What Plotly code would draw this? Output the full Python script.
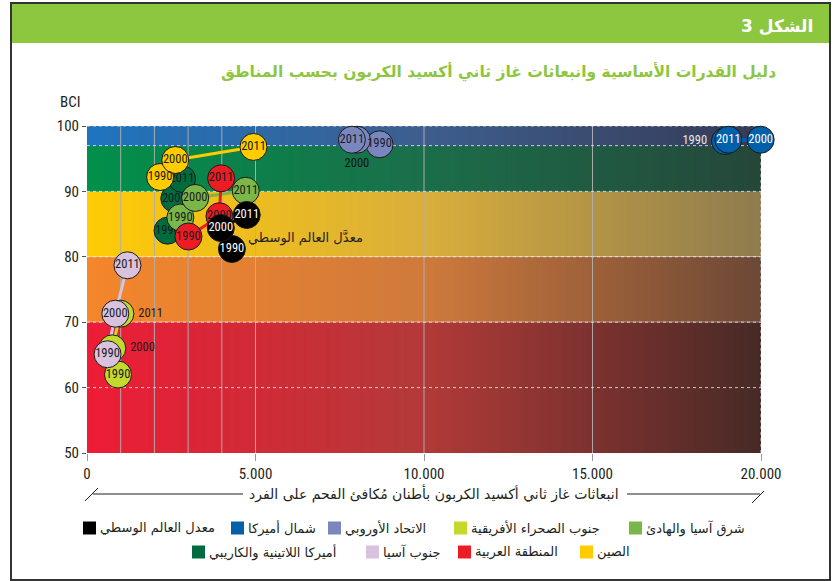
import numpy as np
import plotly.graph_objects as go

# figure size and plot margins (pixels)
W, H = 835, 581
L, R, T, B = 87, 74, 126, 128

years = ["1990", "2000", "2011"]

# CO2 emissions per capita (x) and BCI (y) per region, 1990 / 2000 / 2011
ssa_x = [920, 750, 990]
ssa_y = [62.0, 66.0, 71.3]
sa_x = [610, 840, 1200]
sa_y = [65.1, 71.3, 78.7]
lac_x = [2390, 2590, 2820]
lac_y = [84.0, 88.9, 91.9]
china_x = [2170, 2620, 4940]
china_y = [92.2, 94.8, 96.8]
eap_x = [2770, 3210, 4710]
eap_y = [86.0, 89.0, 90.1]
arab_x = [3010, 3930, 3980]
arab_y = [83.1, 86.2, 92.0]
world_x = [4300, 3970, 4740]
world_y = [81.2, 84.4, 86.4]
eu_x = [8680, 8010, 7860]
eu_y = [97.2, 97.9, 97.9]
na_x = [18930, 19990, 19030]
na_y = [97.7, 97.9, 97.9]

x_ticks = [0, 5000, 10000, 15000, 20000]
x_ticktext = ["0", "5.000", "10.000", "15.000", "20.000"]
y_ticks = [50, 60, 70, 80, 90, 100]

legend_row1 = ["معدل العالم الوسطي", "شمال أميركا", "الاتحاد الأوروبي",
               "جنوب الصحراء الأفريقية", "شرق آسيا والهادئ"]
legend_row2 = ["أميركا اللاتينية والكاريبي", "جنوب آسيا", "المنطقة العربية", "الصين"]

COND = "Liberation Sans Narrow, Roboto Condensed, Roboto, sans-serif"
ARAB = "DejaVu Sans, sans-serif"
GREEN = "#8dc63f"


def px(x):
    return (x - L) / (W - L - R)


def py(y):
    return (H - B - y) / (H - T - B)


fig = go.Figure()

# background bands, each fading to dark towards the right
bands = [
    (50, 70, ["#ee1c36", "#b23a38", "#472a26"]),
    (70, 80, ["#f4862b", "#cf7a3c", "#6c4837"]),
    (80, 90, ["#ffcb05", "#d9ae3c", "#8e7b4f"]),
    (90, 97, ["#00904a", "#1b6e4a", "#25473a"]),
    (97, 100, ["#1f74bf", "#3d5e8e", "#363b55"]),
]
n = 200
for lo, hi, cols in bands:
    fig.add_trace(go.Heatmap(
        z=[np.linspace(0, 1, n)], x=np.linspace(0, 20000, n + 1), y=[lo, hi],
        colorscale=[[0, cols[0]], [0.5, cols[1]], [1, cols[2]]],
        showscale=False, hoverinfo="skip"))

# grid lines drawn over the bands
vx, vy = [], []
for g in [1000, 2000, 3000, 4000, 5000, 10000, 15000]:
    vx += [g, g, None]
    vy += [50, 100, None]
fig.add_trace(go.Scatter(x=vx, y=vy, mode="lines", hoverinfo="skip",
                         line=dict(color="rgba(175,175,175,0.95)", width=1)))
hx, hy = [], []
for g in [60, 70, 80, 90, 97, 100]:
    hx += [0, 20000, None]
    hy += [g, g, None]
hx += [20000, 20000, None]
hy += [50, 100, None]
fig.add_trace(go.Scatter(x=hx, y=hy, mode="lines", hoverinfo="skip",
                         line=dict(color="rgba(235,235,235,0.8)", width=1, dash="dot")))

regions = [
    ("ssa", ssa_x, ssa_y, "#c5d92d", "#1a1a1a"),
    ("sa", sa_x, sa_y, "#d9c2de", "#1a1a1a"),
    ("lac", lac_x, lac_y, "#006b3f", "#1a1a1a"),
    ("china", china_x, china_y, "#ffcc00", "#1a1a1a"),
    ("eap", eap_x, eap_y, "#7ab648", "#1a1a1a"),
    ("arab", arab_x, arab_y, "#ed1c24", "#1a1a1a"),
    ("world", world_x, world_y, "#000000", "#ffffff"),
    ("eu", eu_x, eu_y, "#7a87bf", "#1a1a2e"),
    ("na", na_x, na_y, "#0060a9", "#ffffff"),
]
# labels hidden behind other bubbles are moved outside
text_pos = {
    "ssa": ["middle center", "middle right", "middle right"],
    "eu": ["middle center", "bottom center", "middle center"],
    "na": ["middle left", "middle center", "middle center"],
}
text_col = {
    "ssa": ["#1a1a1a", "#1a1a1a", "#1a1a1a"],
    "eu": ["#1a1a2e", "#111111", "#1a1a2e"],
    "na": ["#e8e8e8", "#ffffff", "#ffffff"],
}

# connecting lines under all bubbles
for key, xs, ys, col, tcol in regions:
    fig.add_trace(go.Scatter(x=xs, y=ys, mode="lines", hoverinfo="skip",
                             cliponaxis=False, line=dict(color=col, width=3)))

for key, xs, ys, col, tcol in regions:
    pts = [0, 1, 2]
    if key == "na":
        pts = [0, 2, 1]
    fig.add_trace(go.Scatter(
        x=[xs[i] for i in pts], y=[ys[i] for i in pts],
        text=[years[i] for i in pts], mode="markers+text", cliponaxis=False,
        textposition=[text_pos.get(key, ["middle center"] * 3)[i] for i in pts],
        textfont=dict(family=COND, size=12.5,
                      color=[text_col.get(key, [tcol] * 3)[i] for i in pts]),
        marker=dict(size=27, color=col, line=dict(color="#1a1a1a", width=1)),
        hoverinfo="skip"))

fig.add_annotation(x=6470, y=82.9, text="معدَّل العالم الوسطي", showarrow=False,
                   xanchor="center", yanchor="middle",
                   font=dict(family=ARAB, size=13, color="#231f20"))

shapes = [
    dict(type="rect", xref="paper", yref="paper", x0=px(12), x1=px(829),
         y0=py(43), y1=py(4), fillcolor=GREEN, line=dict(width=0)),
    dict(type="rect", xref="paper", yref="paper", x0=px(11), x1=px(830),
         y0=py(580), y1=py(3), line=dict(color="#333333", width=2)),
    # axis-title bracket
    dict(type="line", xref="paper", yref="paper", x0=px(93), x1=px(243),
         y0=py(494), y1=py(494), line=dict(color="#231f20", width=1)),
    dict(type="line", xref="paper", yref="paper", x0=px(627), x1=px(760),
         y0=py(494), y1=py(494), line=dict(color="#231f20", width=1)),
    dict(type="line", xref="paper", yref="paper", x0=px(85), x1=px(98),
         y0=py(501), y1=py(488), line=dict(color="#231f20", width=1)),
    dict(type="line", xref="paper", yref="paper", x0=px(752), x1=px(764),
         y0=py(503), y1=py(491), line=dict(color="#231f20", width=1)),
]

annotations = [
    dict(text="<b>الشكل 3</b>", x=px(815), y=py(26), xanchor="right",
         font=dict(family=ARAB, size=17, color="white")),
    dict(text="<b>دليل القدرات الأساسية وانبعاثات غاز ثاني أكسيد الكربون بحسب المناطق</b>",
         x=px(778), y=py(72), xanchor="right",
         font=dict(family=ARAB, size=15.5, color=GREEN)),
    dict(text="BCI", x=px(70), y=py(102), xanchor="center",
         font=dict(family=COND, size=15, color="#231f20")),
    dict(text="انبعاثات غاز ثاني أكسيد الكربون بأطنان مُكافئ الفحم على الفرد",
         x=px(434), y=py(493), xanchor="center",
         font=dict(family=ARAB, size=14, color="#231f20")),
]

# legend: colour square to the left of each label
legend_colors1 = ["#000000", "#0060a9", "#7a87bf", "#c5d92d", "#7ab648"]
legend_colors2 = ["#006b3f", "#d9c2de", "#ed1c24", "#ffcc00"]
rows = [(legend_row1, legend_colors1, [83, 231, 328, 454, 629], 528),
        (legend_row2, legend_colors2, [192, 366, 458, 580], 552)]
for names, cols, xs, yc in rows:
    for name, col, x0 in zip(names, cols, xs):
        shapes.append(dict(type="rect", xref="paper", yref="paper",
                           x0=px(x0), x1=px(x0 + 13), y0=py(yc + 6.5), y1=py(yc - 6.5),
                           fillcolor=col, line=dict(width=0)))
        annotations.append(dict(text=name, x=px(x0 + 15), y=py(yc), xanchor="left",
                                font=dict(family=ARAB, size=13, color="#231f20")))

for a in annotations:
    a.update(xref="paper", yref="paper", showarrow=False, yanchor="middle")

fig.update_layout(
    width=W, height=H, margin=dict(l=L, r=R, t=T, b=B),
    paper_bgcolor="white", plot_bgcolor="white", showlegend=False,
    shapes=shapes, annotations=fig.layout.annotations + tuple(annotations),
    xaxis=dict(range=[0, 20000], tickvals=x_ticks, ticktext=x_ticktext,
               showgrid=False, zeroline=False, ticks="outside", ticklen=7,
               tickcolor="#9a9a9a", tickfont=dict(family=COND, size=15, color="#231f20")),
    yaxis=dict(range=[50, 100], tickvals=y_ticks, showgrid=False, zeroline=False,
               ticks="outside", ticklen=4, tickcolor="#555555",
               tickfont=dict(family=COND, size=15, color="#231f20")),
)

fig.write_html("out.html", config={"displayModeBar": False},
               post_script="document.body.style.margin = '0';")
